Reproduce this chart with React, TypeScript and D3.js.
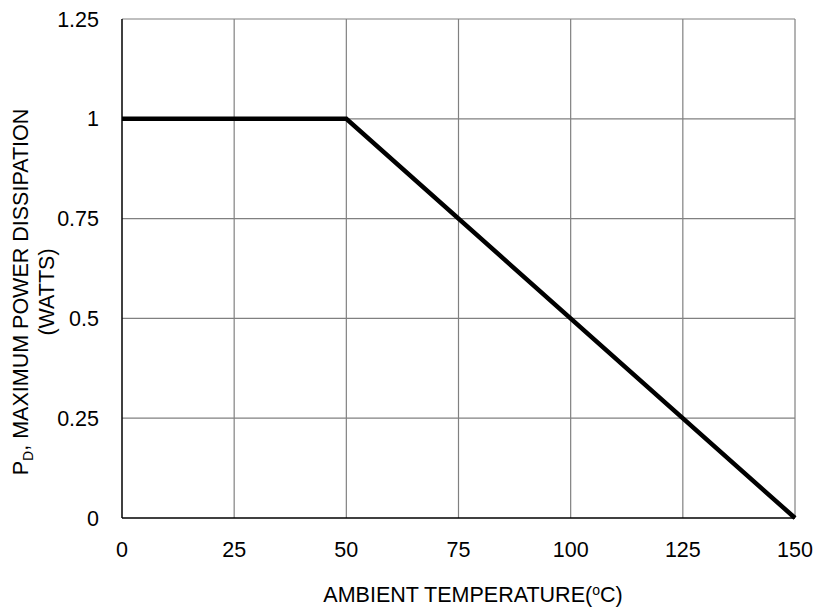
import React from "react";
import * as d3 from "d3";

const WIDTH = 815;
const HEIGHT = 614;
const MARGIN = { top: 19, right: 20, bottom: 96, left: 122 };

// derating curve
const temps = [0, 50, 150];
const power = [1, 1, 0];

const xTicks = [0, 25, 50, 75, 100, 125, 150];
const yTicks = [0, 0.25, 0.5, 0.75, 1, 1.25];

const FONT = "Liberation Sans, Arial, sans-serif";
const FS = 21.5;

export default function App() {
  const x = d3.scaleLinear().domain([0, 150]).range([MARGIN.left, WIDTH - MARGIN.right]);
  const y = d3.scaleLinear().domain([0, 1.25]).range([HEIGHT - MARGIN.bottom, MARGIN.top]);

  const line = d3
    .line<number>()
    .x((d, i) => x(temps[i]))
    .y((d) => y(d));

  const x0 = x(0);
  const x1 = x(150);
  const y0 = y(0);
  const y1 = y(1.25);

  return (
    <svg
      width={WIDTH}
      height={HEIGHT}
      style={{ position: "absolute", left: 0, top: 0, background: "#fff" }}
      fontFamily={FONT}
    >
      <g stroke="#808080" strokeWidth={1.2}>
        {xTicks.slice(1).map((t) => (
          <line key={"gx" + t} x1={x(t)} x2={x(t)} y1={y0} y2={y1} />
        ))}
        {yTicks.slice(1).map((t) => (
          <line key={"gy" + t} x1={x0} x2={x1} y1={y(t)} y2={y(t)} />
        ))}
      </g>
      <g stroke="#000" strokeWidth={1.5}>
        <line x1={x0} x2={x0} y1={y0} y2={y1} />
        <line x1={x0} x2={x1} y1={y0} y2={y0} />
      </g>
      <path d={line(power) || ""} fill="none" stroke="#000" strokeWidth={4.5} />
      <g fontSize={FS} fill="#000">
        {yTicks.map((t) => (
          <text key={"yl" + t} x={99} y={y(t)} dy="0.35em" textAnchor="end">
            {t}
          </text>
        ))}
        {xTicks.map((t) => (
          <text key={"xl" + t} x={x(t)} y={557} textAnchor="middle">
            {t}
          </text>
        ))}
      </g>
      <text x={473} y={602} fontSize={FS} textAnchor="middle">
        AMBIENT TEMPERATURE(
        <tspan fontSize={14} dy={-7}>o</tspan>
        <tspan dy={7}>C)</tspan>
      </text>
      <g transform="translate(0,292) rotate(-90)" fontSize={FS} textAnchor="middle">
        <text x={0} y={28}>
          P<tspan fontSize={14} dy={5}>D</tspan>
          <tspan dy={-5}>, MAXIMUM POWER DISSIPATION</tspan>
        </text>
        <text x={0} y={54}>(WATTS)</text>
      </g>
    </svg>
  );
}
